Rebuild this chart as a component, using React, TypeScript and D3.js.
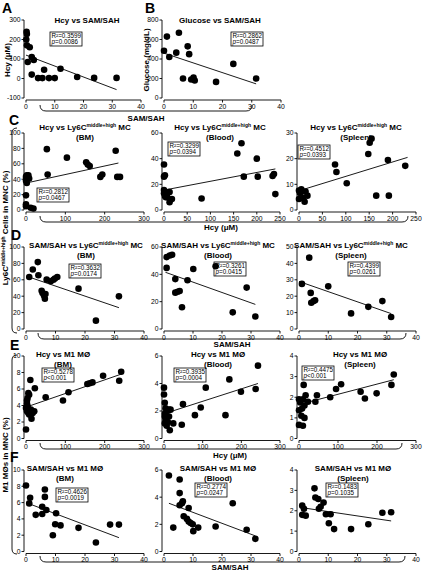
import React from "react";
import * as d3 from "d3";

const FONT = "'Liberation Sans', Arial, Helvetica, sans-serif";

// ---------- Data ----------
// A: Hcy vs SAM/SAH
const aSamSah = [0.2, 0.3, 0.1, 0.3, 1.3, 2.0, 2.7, 0.6, 2.0, 4.2, 5.7, 6.3, 8.0, 10.0, 12.0, 17.8, 23.7, 31.5];
const aHcy = [240, 228, 200, 170, 160, 110, 95, 85, 20, 2, 2, 45, 2, 2, 50, 8, 3, 3];
// B: Glucose vs SAM/SAH
const bSamSah = [1, 0, 1.8, 5.1, 4.2, 8.1, 8.6, 6.5, 9.3, 10.1, 10.5, 17.8, 23.7, 31.5];
const bGlucose = [630, 485, 420, 670, 465, 530, 450, 200, 190, 210, 180, 165, 350, 200];
// C: Hcy vs Ly6C middle+high MC
const cBmHcy = [53, 55, 104, 153, 157, 162, 189, 194, 228, 232, 239, 0, 2, 6, 0, 8, 2, 0, 0, 0, 12, 19];
const cBmLy6c = [79, 46, 68, 62, 59, 57, 43, 46, 77, 43, 43, 43, 45, 45, 38, 41, 35, 19, 7.5, 5, 3, 2];
const cBlHcy = [0, 2, 0, 0, 0, 2, 6, 10, 4, 7, 12, 12, 17, 81, 158, 167, 172, 200, 202, 234, 237, 240];
const cBlLy6c = [35.5, 27, 26, 15.5, 13, 11, 12, 14, 10, 10, 14, 6, 8.5, 9, 44, 52, 26, 40, 26, 26.5, 28, 12.4];
const cSpHcy = [0, 0, 5, 7, 2, 14, 18, 9, 12, 77, 80, 102, 148, 151, 155, 165, 192, 190, 227];
const cSpLy6c = [7.6, 4.3, 8.1, 7.2, 6.6, 7.2, 5.6, 4.7, 3.2, 17.7, 14.8, 10.4, 21.8, 26.2, 27.8, 5.6, 5.6, 19.5, 17.2];
// D: SAM/SAH vs Ly6C middle+high MC
const dBmSam = [1.1, 2.3, 4, 4.2, 5.3, 5.6, 6.1, 6.6, 6.4, 7, 8.4, 9.3, 9.8, 10.6, 17.8, 23.7, 31.5];
const dBmLy6c = [63.5, 72.5, 81.6, 65.6, 46.7, 43.9, 41, 42.6, 36.9, 60.2, 58.2, 60, 61.5, 63.5, 49.2, 10.2, 39.8];
const dBlSam = [0.9, 2, 2.8, 0.9, 3.9, 3.9, 4.7, 5.4, 6.2, 8.1, 10.1, 17.8, 23.7, 28.5, 31.5];
const dBlLy6c = [52.6, 53.8, 54.3, 44.7, 36.5, 26.6, 27.3, 27.8, 15.9, 35.7, 43.9, 45.9, 12.2, 30.3, 9.2];
const dSpSam = [1, 3.5, 4, 4.2, 5, 5.5, 10, 17.8, 23.7, 28.5, 31.5];
const dSpLy6c = [27.5, 43.5, 22, 16, 17, 17.5, 26, 9.5, 13.5, 17, 7.3];
// E: Hcy vs M1 macrophages
const eBmHcy = [0, 11, 6, 8, 4, 2.5, 2.5, 4, 0, 2.5, 6, 8, 12.5, 17, 21, 14, 22.5, 50, 94, 108, 156, 162, 169, 196, 237, 242];
const eBmM1 = [1.1, 7.1, 5.5, 5.3, 4.9, 4.6, 4.2, 3.9, 3.7, 3.3, 3.1, 2.9, 3.5, 3.1, 3.3, 2.4, 6.1, 5, 4.6, 5.6, 6.6, 6.7, 6.8, 7.6, 7, 8.1];
const eBlHcy = [0, 0, 2, 4, 2, 8, 13, 17, 2, 4, 2, 7, 10, 13, 15, 24, 46, 49, 80, 95, 108, 159, 169, 199, 237, 243];
const eBlM1 = [3.7, 3.2, 2.6, 2.2, 1.8, 2, 2.1, 2.1, 1.6, 1.35, 1.1, 0.93, 1.2, 1.6, 0.6, 1.1, 1.0, 2.5, 1.7, 2.25, 3.7, 1.7, 4.3, 3.4, 3.6, 5.3];
const eSpHcy = [0, 10, 0, 0, 3, 6, 8, 10, 14, 14, 17, 12, 23, 42, 46, 80, 95, 108, 158, 169, 199, 237, 243];
const eSpM1 = [0.66, 0.62, 1.37, 1.9, 1.75, 1.1, 1.45, 1.9, 1.0, 1.6, 2.1, 2.6, 1.78, 1.78, 2.1, 2.0, 2.4, 2.63, 2.27, 1.94, 2.19, 2.6, 3.1];
// F: SAM/SAH vs M1 macrophages
const fBmSam = [0, 1.4, 1.1, 3.3, 5.5, 5.5, 6.4, 6.4, 6.9, 9.1, 9.9, 10.2, 11.7, 17.8, 23.7, 28.5, 31.5];
const fBmM1 = [8.1, 6.6, 5.9, 4.5, 5.5, 4.6, 7.6, 6.7, 5.1, 2.0, 3.35, 4.7, 3.2, 2.9, 1.1, 3.3, 3.3];
const fBlSam = [1.7, 5.4, 3.2, 5.4, 5.4, 6.2, 6.5, 6.8, 7.9, 8.5, 8.5, 9.2, 9.9, 10.1, 11.8, 17.8, 23.7, 28.5, 31.5];
const fBlM1 = [5.6, 5.3, 1.76, 4.3, 3.4, 3.55, 3.7, 2.6, 2.4, 3.2, 2.2, 2.1, 2.0, 1.5, 1.76, 1.84, 3.55, 1.6, 0.93];
const fSpSam = [1.1, 1.1, 1.7, 2.3, 5.3, 5.6, 6.6, 6.8, 7.4, 8.4, 9.2, 10.2, 10.8, 12, 17.8, 23.7, 28.5, 31.5];
const fSpM1 = [1.8, 2.25, 2.1, 1.76, 3.1, 2.65, 2.58, 2.1, 2.2, 2.4, 1.83, 1.39, 1.83, 1.1, 1.1, 1.34, 1.9, 1.93];

// regression line endpoints [x0, y0, x1, y1]
const fitA = [0, 120, 31.5, -57];
const fitB = [0, 460, 31.5, 145];
const fitCBm = [0, 35, 235, 61];
const fitCBl = [0, 15.5, 240, 32];
const fitCSp = [0, 7.5, 232, 20.5];
const fitDBm = [0.5, 64, 31.5, 26];
const fitDBl = [0.5, 41.5, 31.5, 18];
const fitDSp = [0, 29, 31.5, 9.4];
const fitEBm = [0, 3.8, 242, 7.8];
const fitEBl = [0, 1.8, 243, 4.0];
const fitESp = [0, 1.65, 243, 2.85];
const fitFBm = [0, 6.0, 31.5, 1.7];
const fitFBl = [1.7, 3.55, 31.5, 1.15];
const fitFSp = [1.1, 2.15, 31.5, 1.5];

// stats: R², p
const rSquared = ["0.3599", "0.2862", "0.2812", "0.3299", "0.4512", "0.3632", "0.3261", "0.4399", "0.5278", "0.3935", "0.4475", "0.4626", "0.2774", "0.1483"];
const pValues = ["=0.0086", "=0.0487", "=0.0467", "=0.0394", "=0.0393", "=0.0174", "=0.0415", "=0.0261", "<0.001", "=0.0004", "<0.001", "=0.0019", "=0.0247", "=0.1035"];

// ticks
const ticksSam = [0, 10, 20, 30, 40];
const ticksHcy300 = [0, 100, 200, 300];
const ticksHcy250 = [0, 50, 100, 150, 200, 250];

type PanelProps = {
  x0: number; x1: number; yTop: number; yBot: number;
  xDom: [number, number]; yDom: [number, number];
  xTicks: number[]; yTicks: number[];
  xs: number[]; ys: number[]; fit: number[];
  idx: number; box: [number, number];
  title: React.ReactNode; titleX: number; titleY: number; sub?: string;
};

function Sup({ t }: { t: string }) {
  return (
    <>
      <tspan dy={-3} fontSize={5}>{t}</tspan>
      <tspan dy={3}>{" "}</tspan>
    </>
  );
}

function Panel(p: PanelProps) {
  const x = d3.scaleLinear().domain(p.xDom).range([p.x0, p.x1]);
  const y = d3.scaleLinear().domain(p.yDom).range([p.yBot, p.yTop]);
  const axX = p.x0 - 2;
  const axY = p.yBot + 2;
  const lineGen = d3.line();
  const fitPath = lineGen([
    [x(p.fit[0]), y(p.fit[1])],
    [x(p.fit[2]), y(p.fit[3])],
  ]) as string;
  const [bx, by] = p.box;
  return (
    <g>
      <line x1={axX} x2={axX} y1={p.yTop} y2={p.yBot} stroke="#000" strokeWidth={0.9} />
      {p.yTicks.map((t) => (
        <g key={"y" + t}>
          <line x1={axX - 2.5} x2={axX} y1={y(t)} y2={y(t)} stroke="#000" strokeWidth={0.9} />
          <text x={axX - 3.5} y={y(t) + 2.4} textAnchor="end" fontSize={6.8}>{t}</text>
        </g>
      ))}
      <line x1={p.x0} x2={p.x1} y1={axY} y2={axY} stroke="#000" strokeWidth={0.9} />
      {p.xTicks.map((t) => (
        <g key={"x" + t}>
          <line x1={x(t)} x2={x(t)} y1={axY} y2={axY + 2.5} stroke="#000" strokeWidth={0.9} />
          <text x={x(t)} y={axY + 8.8} textAnchor="middle" fontSize={6.8}>{t}</text>
        </g>
      ))}
      {p.xs.map((v, i) => (
        <circle key={i} cx={x(v)} cy={y(p.ys[i])} r={3.3} fill="#000" />
      ))}
      <path d={fitPath} stroke="#000" strokeWidth={0.9} fill="none" />
      <rect x={bx} y={by} width={32} height={14} fill="none" stroke="#000" strokeWidth={0.8} />
      <text x={bx + 1.5} y={by + 6} fontSize={6.3}>{"R\u00B2=" + rSquared[p.idx]}</text>
      <text x={bx + 1.5} y={by + 12.3} fontSize={6.3}>
        <tspan fontStyle="italic">p</tspan>{pValues[p.idx]}
      </text>
      <text x={p.titleX} y={p.titleY} textAnchor="middle" fontSize={8} fontWeight="bold">{p.title}</text>
      {p.sub && (
        <text x={p.titleX} y={p.titleY + 9.5} textAnchor="middle" fontSize={8} fontWeight="bold">{p.sub}</text>
      )}
    </g>
  );
}

function HBracket({ x1, x2, yH }: { x1: number; x2: number; yH: number }) {
  const d = `M${x1},${yH - 6} Q${x1},${yH} ${x1 + 6},${yH} L${x2 - 6},${yH} Q${x2},${yH} ${x2},${yH - 6}`;
  return <path d={d} fill="none" stroke="#000" strokeWidth={0.9} />;
}
function VBracket({ xV, y1, y2 }: { xV: number; y1: number; y2: number }) {
  const d = `M${xV + 5},${y1} Q${xV},${y1} ${xV},${y1 + 5} L${xV},${y2 - 5} Q${xV},${y2} ${xV + 5},${y2}`;
  return <path d={d} fill="none" stroke="#000" strokeWidth={0.9} />;
}

const ly6cTitle = (pre: string) => (
  <>
    {pre + " vs Ly6C"}
    <Sup t="middle+high" />
    {"MC"}
  </>
);

const panelLetters: [string, number, number][] = [
  ["A", 2, 13], ["B", 145, 13], ["C", 9, 125], ["D", 11, 240], ["E", 10, 350], ["F", 10, 462],
];

export default function App() {
  const W = 426, H = 570;
  // columns
  const cBm: [number, number] = [26, 144];
  const cBl: [number, number] = [164, 280];
  const cSp: [number, number] = [299, 416];
  // rows
  const rC: [number, number] = [133, 210];
  const rD: [number, number] = [247, 329];
  const rE: [number, number] = [356, 438.5];
  const rF: [number, number] = [470, 551.5];
  return (
    <svg width={W} height={H} style={{ position: "absolute", left: 0, top: 0, background: "#fff" }} fontFamily={FONT}>
      <rect width={W} height={H} fill="#fff" />

      {/* C/D y label */}
      <VBracket xV={12} y1={128} y2={333} />
      <text transform="translate(8,228) rotate(-90)" textAnchor="middle" fontSize={8} fontWeight="bold">
        {"Ly6C"}<Sup t="middle+high" />{"Cells in MNC (%)"}
      </text>
      {/* E/F y label */}
      <VBracket xV={12} y1={355} y2={554} />
      <text transform="translate(8,455) rotate(-90)" textAnchor="middle" fontSize={8} fontWeight="bold">M1 MØs in MNC (%)</text>

      {/* A */}
      <Panel x0={26} x1={141} yTop={20} yBot={98} xDom={[0, 40]} yDom={[-100, 300]}
        xTicks={ticksSam} yTicks={[-100, 0, 100, 200, 300]} xs={aSamSah} ys={aHcy} fit={fitA}
        idx={0} box={[50, 32]} title="Hcy vs SAM/SAH" titleX={87} titleY={23} />
      {/* B */}
      <Panel x0={164} x1={281} yTop={20} yBot={98} xDom={[0, 40]} yDom={[0, 800]}
        xTicks={ticksSam} yTicks={[0, 200, 400, 600, 800]} xs={bSamSah} ys={bGlucose} fit={fitB}
        idx={1} box={[231, 32]} title="Glucose vs SAM/SAH" titleX={220} titleY={23} />
      <text transform="translate(10,60) rotate(-90)" textAnchor="middle" fontSize={8} fontWeight="bold">Hcy (μM)</text>
      <text transform="translate(149,60) rotate(-90)" textAnchor="middle" fontSize={8} fontWeight="bold">Glucose (mg/dL)</text>
      <HBracket x1={40} x2={252} yH={111} />
      <text x={146} y={121} textAnchor="middle" fontSize={8} fontWeight="bold">SAM/SAH</text>

      {/* C */}
      <Panel x0={cBm[0]} x1={cBm[1]} yTop={rC[0]} yBot={rC[1]} xDom={[0, 300]} yDom={[0, 100]}
        xTicks={ticksHcy300} yTicks={[0, 20, 40, 60, 80, 100]} xs={cBmHcy} ys={cBmLy6c} fit={fitCBm}
        idx={2} box={[37, 188]} title={ly6cTitle("Hcy")} titleX={85} titleY={130} sub="(BM)" />
      <Panel x0={cBl[0]} x1={cBl[1]} yTop={rC[0]} yBot={rC[1]} xDom={[0, 250]} yDom={[0, 60]}
        xTicks={ticksHcy250} yTicks={[0, 20, 40, 60]} xs={cBlHcy} ys={cBlLy6c} fit={fitCBl}
        idx={3} box={[168, 142]} title={ly6cTitle("Hcy")} titleX={220} titleY={130} sub="(Blood)" />
      <Panel x0={cSp[0]} x1={cSp[1]} yTop={rC[0]} yBot={rC[1]} xDom={[0, 250]} yDom={[0, 30]}
        xTicks={ticksHcy250} yTicks={[0, 10, 20, 30]} xs={cSpHcy} ys={cSpLy6c} fit={fitCSp}
        idx={4} box={[298, 145]} title={ly6cTitle("Hcy")} titleX={356} titleY={130} sub="(Spleen)" />
      <HBracket x1={40} x2={408} yH={222} />
      <text x={221} y={230} textAnchor="middle" fontSize={8} fontWeight="bold">Hcy (μM)</text>

      {/* D */}
      <Panel x0={cBm[0]} x1={cBm[1]} yTop={rD[0]} yBot={rD[1]} xDom={[0, 40]} yDom={[0, 100]}
        xTicks={ticksSam} yTicks={[0, 20, 40, 60, 80, 100]} xs={dBmSam} ys={dBmLy6c} fit={fitDBm}
        idx={5} box={[69, 264]} title={ly6cTitle("SAM/SAH")} titleX={86} titleY={248} sub="(BM)" />
      <Panel x0={cBl[0]} x1={cBl[1]} yTop={rD[0]} yBot={rD[1]} xDom={[0, 40]} yDom={[0, 60]}
        xTicks={ticksSam} yTicks={[0, 20, 40, 60]} xs={dBlSam} ys={dBlLy6c} fit={fitDBl}
        idx={6} box={[214, 262]} title={ly6cTitle("SAM/SAH")} titleX={218} titleY={248} sub="(Blood)" />
      <Panel x0={cSp[0]} x1={cSp[1]} yTop={rD[0]} yBot={rD[1]} xDom={[0, 40]} yDom={[0, 50]}
        xTicks={ticksSam} yTicks={[0, 10, 20, 30, 40, 50]} xs={dSpSam} ys={dSpLy6c} fit={fitDSp}
        idx={7} box={[348, 262]} title={ly6cTitle("SAM/SAH")} titleX={351} titleY={248} sub="(Spleen)" />
      <HBracket x1={38} x2={406} yH={339} />
      <text x={232} y={347} textAnchor="middle" fontSize={8} fontWeight="bold">SAM/SAH</text>

      {/* E */}
      <Panel x0={cBm[0]} x1={cBm[1]} yTop={rE[0]} yBot={rE[1]} xDom={[0, 300]} yDom={[0, 10]}
        xTicks={ticksHcy300} yTicks={[0, 2, 4, 6, 8, 10]} xs={eBmHcy} ys={eBmM1} fit={fitEBm}
        idx={8} box={[42, 368]} title="Hcy vs M1 MØ" titleX={63} titleY={357} sub="(BM)" />
      <Panel x0={cBl[0]} x1={cBl[1]} yTop={rE[0]} yBot={rE[1]} xDom={[0, 300]} yDom={[0, 6]}
        xTicks={ticksHcy300} yTicks={[0, 2, 4, 6]} xs={eBlHcy} ys={eBlM1} fit={fitEBl}
        idx={9} box={[174, 368]} title="Hcy vs M1 MØ" titleX={218} titleY={357} sub="(Blood)" />
      <Panel x0={cSp[0]} x1={cSp[1]} yTop={rE[0]} yBot={rE[1]} xDom={[0, 300]} yDom={[0, 4]}
        xTicks={ticksHcy300} yTicks={[0, 1, 2, 3, 4]} xs={eSpHcy} ys={eSpM1} fit={fitESp}
        idx={10} box={[302, 366]} title="Hcy vs M1 MØ" titleX={360} titleY={357} sub="(Spleen)" />
      <HBracket x1={40} x2={402} yH={449} />
      <text x={230} y={458} textAnchor="middle" fontSize={8} fontWeight="bold">Hcy (μM)</text>

      {/* F */}
      <Panel x0={cBm[0]} x1={cBm[1]} yTop={rF[0]} yBot={rF[1]} xDom={[0, 40]} yDom={[0, 10]}
        xTicks={ticksSam} yTicks={[0, 2, 4, 6, 8, 10]} xs={fBmSam} ys={fBmM1} fit={fitFBm}
        idx={11} box={[56, 488]} title="SAM/SAH vs M1 MØ" titleX={65} titleY={471} sub="(BM)" />
      <Panel x0={cBl[0]} x1={cBl[1]} yTop={rF[0]} yBot={rF[1]} xDom={[0, 40]} yDom={[0, 6]}
        xTicks={ticksSam} yTicks={[0, 2, 4, 6]} xs={fBlSam} ys={fBlM1} fit={fitFBl}
        idx={12} box={[195, 483]} title="SAM/SAH vs M1 MØ" titleX={218} titleY={471} sub="(Blood)" />
      <Panel x0={cSp[0]} x1={cSp[1]} yTop={rF[0]} yBot={rF[1]} xDom={[0, 40]} yDom={[0, 4]}
        xTicks={ticksSam} yTicks={[0, 1, 2, 3, 4]} xs={fSpSam} ys={fSpM1} fit={fitFSp}
        idx={13} box={[326, 483]} title="SAM/SAH vs M1 MØ" titleX={353} titleY={471} sub="(Spleen)" />
      <HBracket x1={40} x2={405} yH={562} />
      <text x={230} y={569.5} textAnchor="middle" fontSize={8} fontWeight="bold">SAM/SAH</text>

      {/* panel letters */}
      {panelLetters.map(([l, lx, ly]) => (
        <text key={l} x={lx} y={ly} fontSize={14} fontWeight="bold">{l}</text>
      ))}
    </svg>
  );
}
